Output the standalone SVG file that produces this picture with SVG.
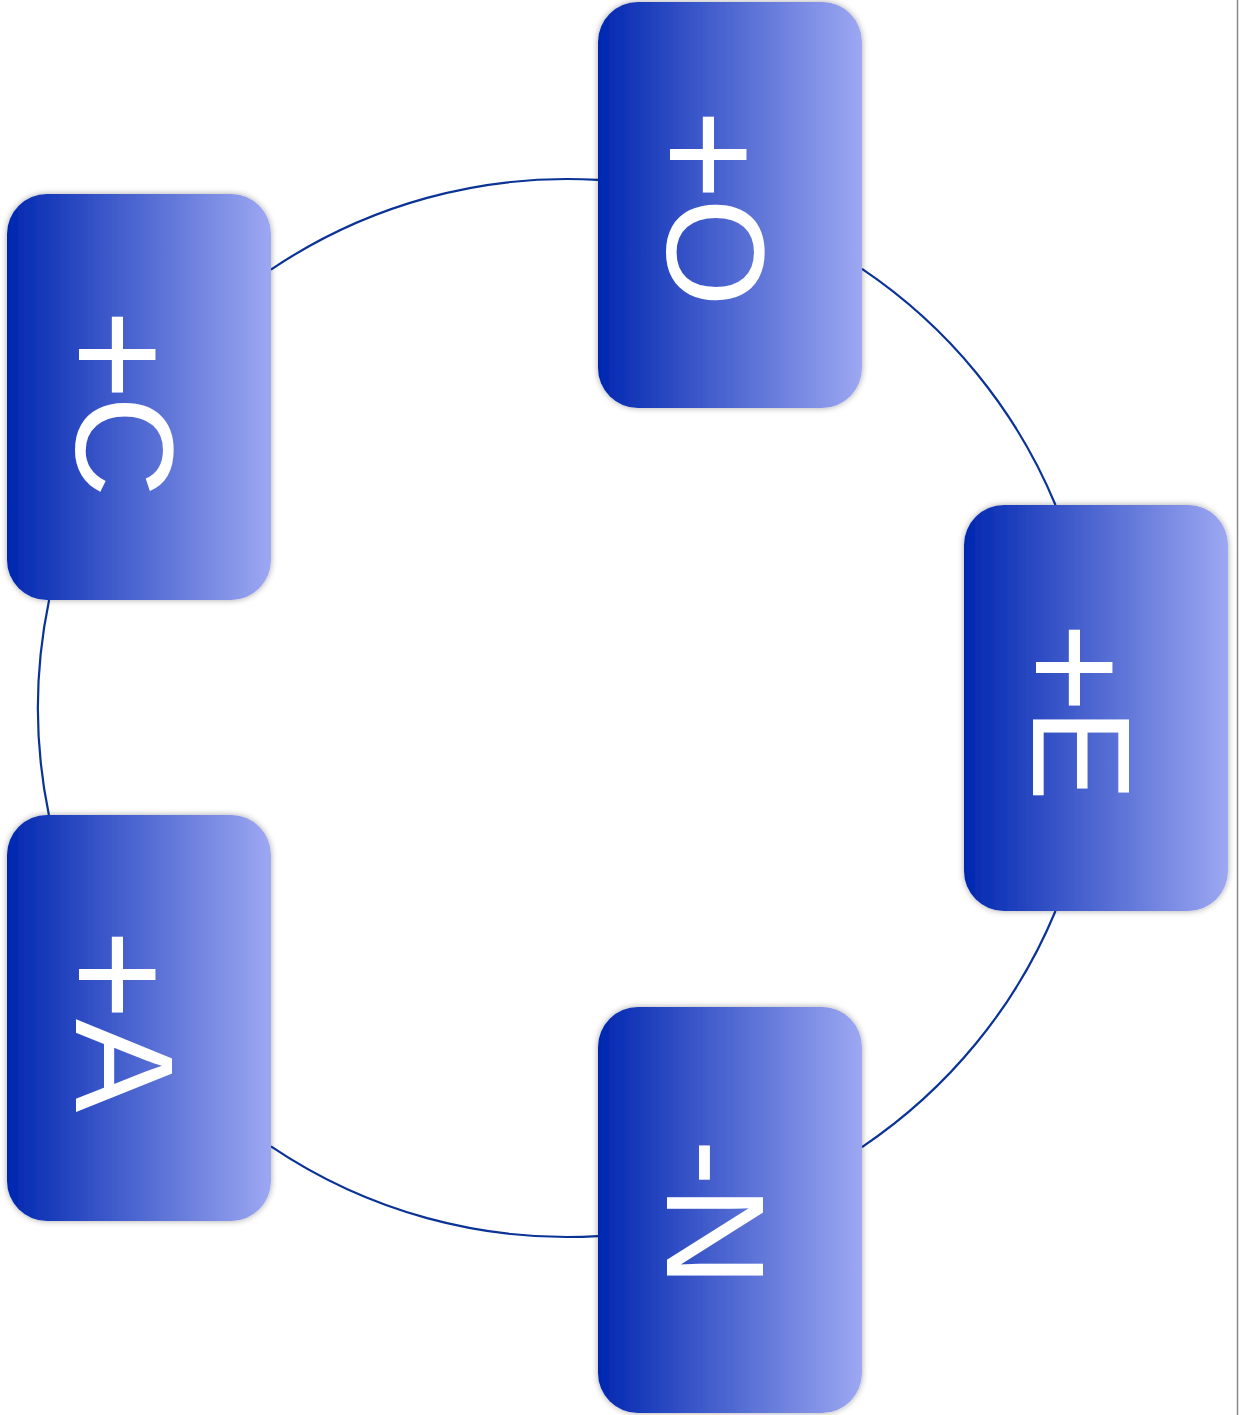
<svg xmlns="http://www.w3.org/2000/svg" width="1239" height="1415" viewBox="0 0 1239 1415">
<defs>
<linearGradient id="g" x1="0" y1="0" x2="1" y2="0">
<stop offset="0" stop-color="#0027b0"/>
<stop offset="1" stop-color="#9da8f2"/>
</linearGradient>
<filter id="sh" x="-10%" y="-10%" width="120%" height="120%">
<feDropShadow dx="0" dy="0" stdDeviation="3" flood-color="#000" flood-opacity="0.35"/>
</filter>
<style>
.box{fill:url(#g);filter:url(#sh);}
.lbl{font-family:"Liberation Sans",Arial,sans-serif;font-size:140px;fill:#fff;}
.pl{font-size:156px;}
.arc{fill:none;stroke:#0a3397;stroke-width:2.2;}
</style>
</defs>
<rect width="1239" height="1415" fill="#fff"/>
<line x1="1237.5" y1="0" x2="1237.5" y2="1415" stroke="#8a8a8a" stroke-width="1.5"/>
<g id="connectors">
<path class="arc" d="M862,268.9 A529,529 0 0 1 1055.5,505"/>
<path class="arc" d="M1055.5,911 A529,529 0 0 1 862,1147.1"/>
<path class="arc" d="M598,1236.1 A529,529 0 0 1 271,1146.4"/>
<path class="arc" d="M48.9,815 A529,529 0 0 1 49.1,600"/>
<path class="arc" d="M271,269.6 A529,529 0 0 1 598,179.9"/>
</g>
<g id="node-O">
<rect class="box" x="598" y="2" width="264" height="406" rx="40"/>
<text class="lbl" transform="translate(730,205) rotate(90)" x="-96" y="63"><tspan class="pl" dy="11">+</tspan><tspan dx="-2" dy="-11">O</tspan></text>
</g>
<g id="node-E">
<rect class="box" x="964" y="505" width="264" height="406" rx="40"/>
<text class="lbl" transform="translate(1096,708) rotate(90)" x="-86" y="63"><tspan class="pl" dy="11">+</tspan><tspan dx="-5" dy="-11">E</tspan></text>
</g>
<g id="node-N">
<rect class="box" x="598" y="1007" width="264" height="406" rx="40"/>
<text class="lbl" transform="translate(730,1210) rotate(90)" x="3" y="63" text-anchor="middle">-N</text>
</g>
<g id="node-A">
<rect class="box" x="7" y="815" width="264" height="406" rx="40"/>
<text class="lbl" transform="translate(139,1018) rotate(90)" x="-89" y="63"><tspan class="pl" dy="11">+</tspan><tspan dx="-1" dy="-11">A</tspan></text>
</g>
<g id="node-C">
<rect class="box" x="7" y="194" width="264" height="406" rx="40"/>
<text class="lbl" transform="translate(139,397) rotate(90)" x="-88" y="63"><tspan class="pl" dy="11">+</tspan><tspan dx="-4" dy="-11">C</tspan></text>
</g>
</svg>
